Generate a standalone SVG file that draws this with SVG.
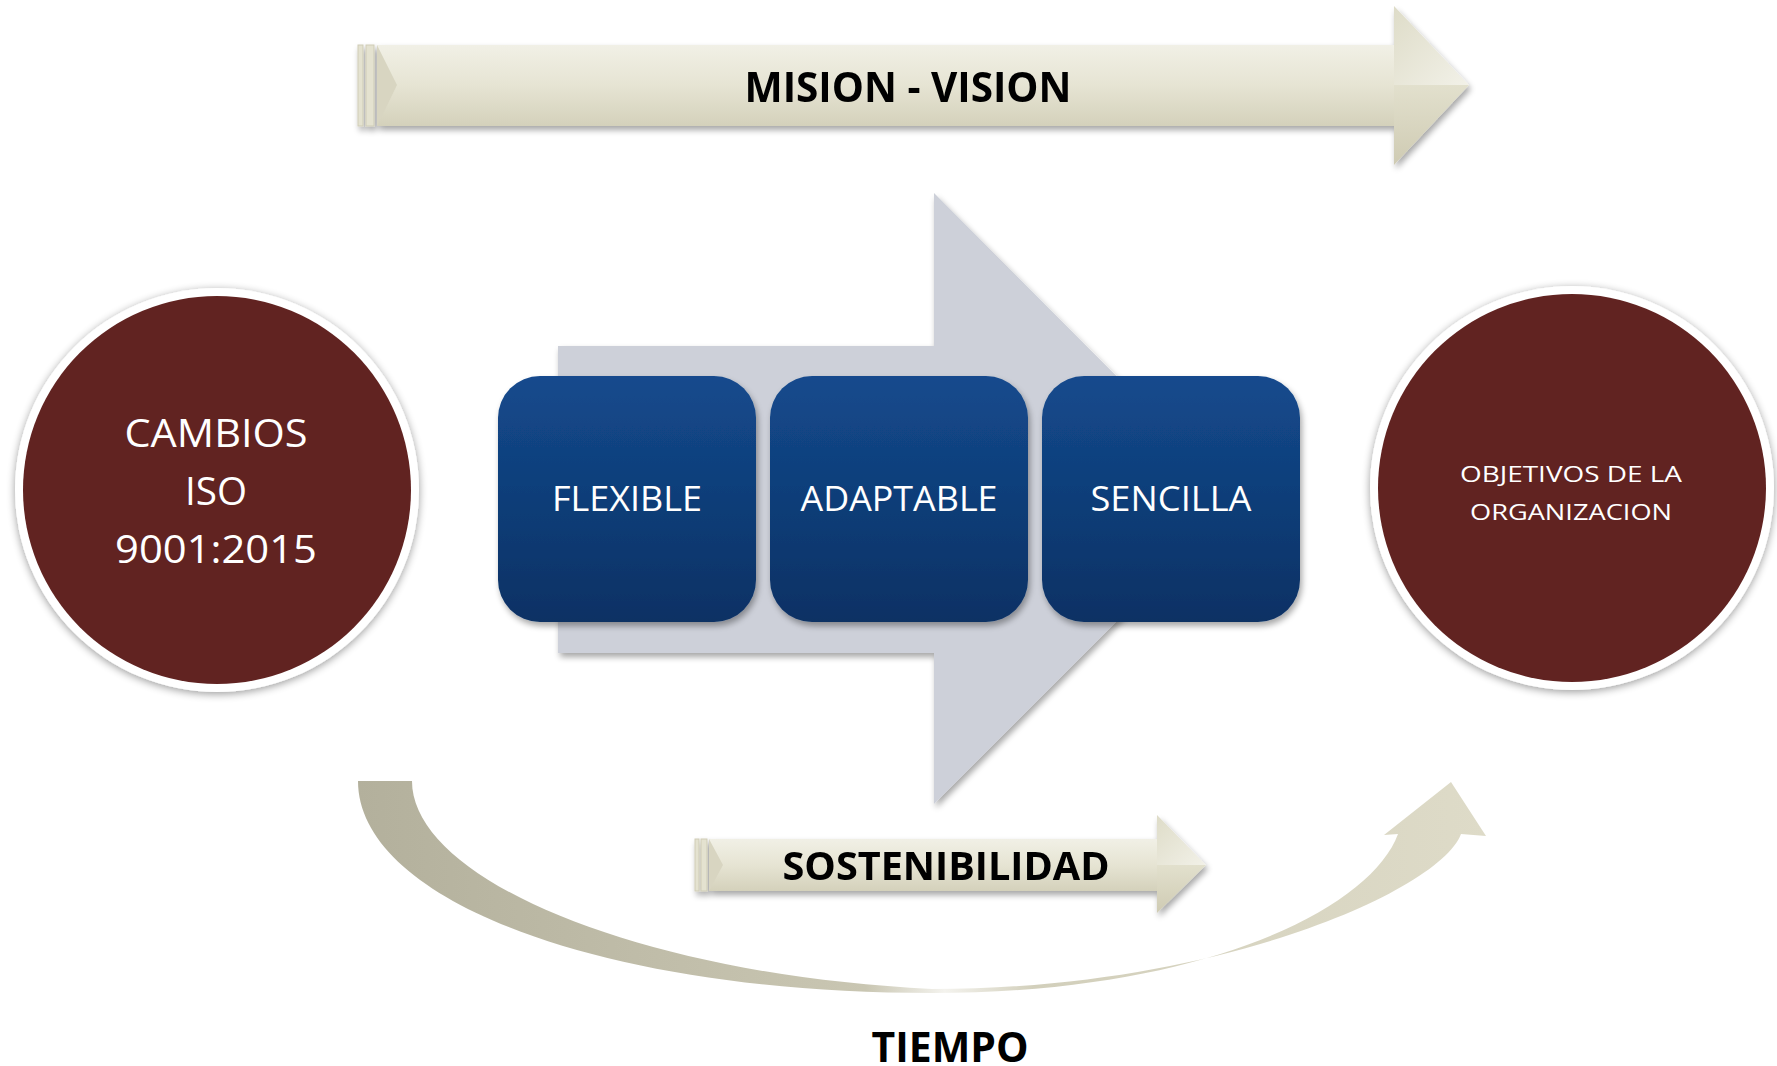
<svg xmlns="http://www.w3.org/2000/svg" width="1777" height="1066" viewBox="0 0 1777 1066">
  <defs>
    <linearGradient id="beige" x1="0" y1="0" x2="0" y2="1">
      <stop offset="0" stop-color="#f1f0e6"/>
      <stop offset="0.5" stop-color="#e6e4d3"/>
      <stop offset="1" stop-color="#d4d1bb"/>
    </linearGradient>
    <linearGradient id="headUp" x1="0" y1="0" x2="1" y2="1">
      <stop offset="0" stop-color="#dedcc8"/>
      <stop offset="1" stop-color="#f2f1e8"/>
    </linearGradient>
    <linearGradient id="headDn" x1="0" y1="0" x2="0" y2="1">
      <stop offset="0" stop-color="#e2e0cd"/>
      <stop offset="1" stop-color="#cfcbb3"/>
    </linearGradient>
    <linearGradient id="blue" x1="0" y1="0" x2="0" y2="1">
      <stop offset="0" stop-color="#144a8d"/>
      <stop offset="1" stop-color="#0a3164"/>
    </linearGradient>
    <linearGradient id="curve" x1="358" y1="0" x2="1486" y2="0" gradientUnits="userSpaceOnUse">
      <stop offset="0" stop-color="#b3b09c"/>
      <stop offset="0.45" stop-color="#c9c6b2"/>
      <stop offset="0.52" stop-color="#f4f3ee"/>
      <stop offset="0.6" stop-color="#d2cfbb"/>
      <stop offset="1" stop-color="#dedbc8"/>
    </linearGradient>
    <filter id="shadow" x="-10%" y="-10%" width="120%" height="130%">
      <feGaussianBlur in="SourceAlpha" stdDeviation="3"/>
      <feOffset dx="2" dy="4" result="b"/>
      <feComponentTransfer><feFuncA type="linear" slope="0.35"/></feComponentTransfer>
      <feMerge><feMergeNode/><feMergeNode in="SourceGraphic"/></feMerge>
    </filter>
    <filter id="glow" x="-10%" y="-10%" width="120%" height="120%">
      <feGaussianBlur in="SourceAlpha" stdDeviation="4"/>
      <feOffset dx="0" dy="2"/>
      <feComponentTransfer><feFuncA type="linear" slope="0.4"/></feComponentTransfer>
      <feMerge><feMergeNode/><feMergeNode in="SourceGraphic"/></feMerge>
    </filter>
    <style>
      .lbl { font-family: "Open Sans", "Liberation Sans", sans-serif; fill: #ffffff; text-anchor: middle; }
      .big { font-family: "Open Sans", "Liberation Sans", sans-serif; font-weight: bold; fill: #000000; text-anchor: middle; }
      .box { fill: url(#blue); filter: url(#shadow); }
      .ring { fill: #ffffff; filter: url(#glow); }
      .disc { fill: #612321; }
    </style>
  </defs>
  <rect width="1777" height="1066" fill="#ffffff"/>

  <!-- Top arrow: MISION - VISION -->
  <g id="mision-vision" filter="url(#shadow)">
    <rect x="358" y="45" width="5" height="81" fill="#e4e2d0" stroke="#cfccb6" stroke-width="1"/>
    <rect x="366" y="45" width="8" height="81" fill="#e4e2d0" stroke="#cfccb6" stroke-width="1"/>
    <polygon points="377,45 1394,45 1394,126 377,126" fill="url(#beige)"/>
    <polygon points="377,45 397,85 377,126" fill="#d8d5c1"/>
    <polygon points="1394,6 1469,85 1394,85" fill="url(#headUp)"/>
    <polygon points="1394,85 1469,85 1394,165" fill="url(#headDn)"/>
    <text class="big" x="908" y="102" font-size="42" textLength="327" lengthAdjust="spacingAndGlyphs">MISION - VISION</text>
  </g>

  <!-- Big gray arrow -->
  <g id="process-arrow">
    <polygon points="558,346 934,346 934,193 1239,499 934,804 934,653 558,653" fill="#cdd0d9" filter="url(#shadow)"/>
  </g>

  <!-- Left circle -->
  <g id="cambios">
    <circle class="ring" cx="217" cy="490" r="202"/>
    <circle class="disc" cx="217" cy="490" r="194"/>
    <text class="lbl" x="216" y="447" font-size="39" textLength="183" lengthAdjust="spacingAndGlyphs">CAMBIOS</text>
    <text class="lbl" x="216" y="505" font-size="39" textLength="62" lengthAdjust="spacingAndGlyphs">ISO</text>
    <text class="lbl" x="216" y="563" font-size="39" textLength="202" lengthAdjust="spacingAndGlyphs">9001:2015</text>
  </g>

  <!-- Right circle -->
  <g id="objetivos">
    <circle class="ring" cx="1572" cy="488" r="202"/>
    <circle class="disc" cx="1572" cy="488" r="194"/>
    <text class="lbl" x="1571" y="482" font-size="22" textLength="222" lengthAdjust="spacingAndGlyphs">OBJETIVOS DE LA</text>
    <text class="lbl" x="1571" y="520" font-size="22" textLength="202" lengthAdjust="spacingAndGlyphs">ORGANIZACION</text>
  </g>

  <!-- Blue boxes -->
  <g id="flexible">
    <rect class="box" x="498" y="376" width="258" height="246" rx="42" ry="42"/>
    <text class="lbl" x="627" y="511" font-size="35" textLength="150" lengthAdjust="spacingAndGlyphs">FLEXIBLE</text>
  </g>
  <g id="adaptable">
    <rect class="box" x="770" y="376" width="258" height="246" rx="42" ry="42"/>
    <text class="lbl" x="899" y="511" font-size="35" textLength="197" lengthAdjust="spacingAndGlyphs">ADAPTABLE</text>
  </g>
  <g id="sencilla">
    <rect class="box" x="1042" y="376" width="258" height="246" rx="42" ry="42"/>
    <text class="lbl" x="1171" y="511" font-size="35" textLength="161" lengthAdjust="spacingAndGlyphs">SENCILLA</text>
  </g>

  <!-- Curved arrow: TIEMPO -->
  <g id="connectors">
    <path d="M358,781 C358,900 600,993 932,993 C1200,993 1370,910 1398,834 L1384,835 L1451,782 L1486,836 L1461,834 C1440,890 1220,989 932,989 C640,975 412,880 412,781 Z" fill="url(#curve)"/>
  </g>
  <g id="tiempo">
    <text class="big" x="950" y="1062" font-size="42" textLength="157" lengthAdjust="spacingAndGlyphs">TIEMPO</text>
  </g>

  <!-- SOSTENIBILIDAD arrow -->
  <g id="sostenibilidad" filter="url(#shadow)">
    <rect x="695" y="839" width="4" height="52" fill="#e4e2d0" stroke="#cfccb6" stroke-width="1"/>
    <rect x="701" y="839" width="6" height="52" fill="#e4e2d0" stroke="#cfccb6" stroke-width="1"/>
    <polygon points="709,839 1157,839 1157,891 709,891" fill="url(#beige)"/>
    <polygon points="709,839 723,865 709,891" fill="#d8d5c1"/>
    <polygon points="1157,815 1206,865 1157,865" fill="url(#headUp)"/>
    <polygon points="1157,865 1206,865 1157,913" fill="url(#headDn)"/>
    <text class="big" x="946" y="880" font-size="39" textLength="327" lengthAdjust="spacingAndGlyphs">SOSTENIBILIDAD</text>
  </g>
</svg>
